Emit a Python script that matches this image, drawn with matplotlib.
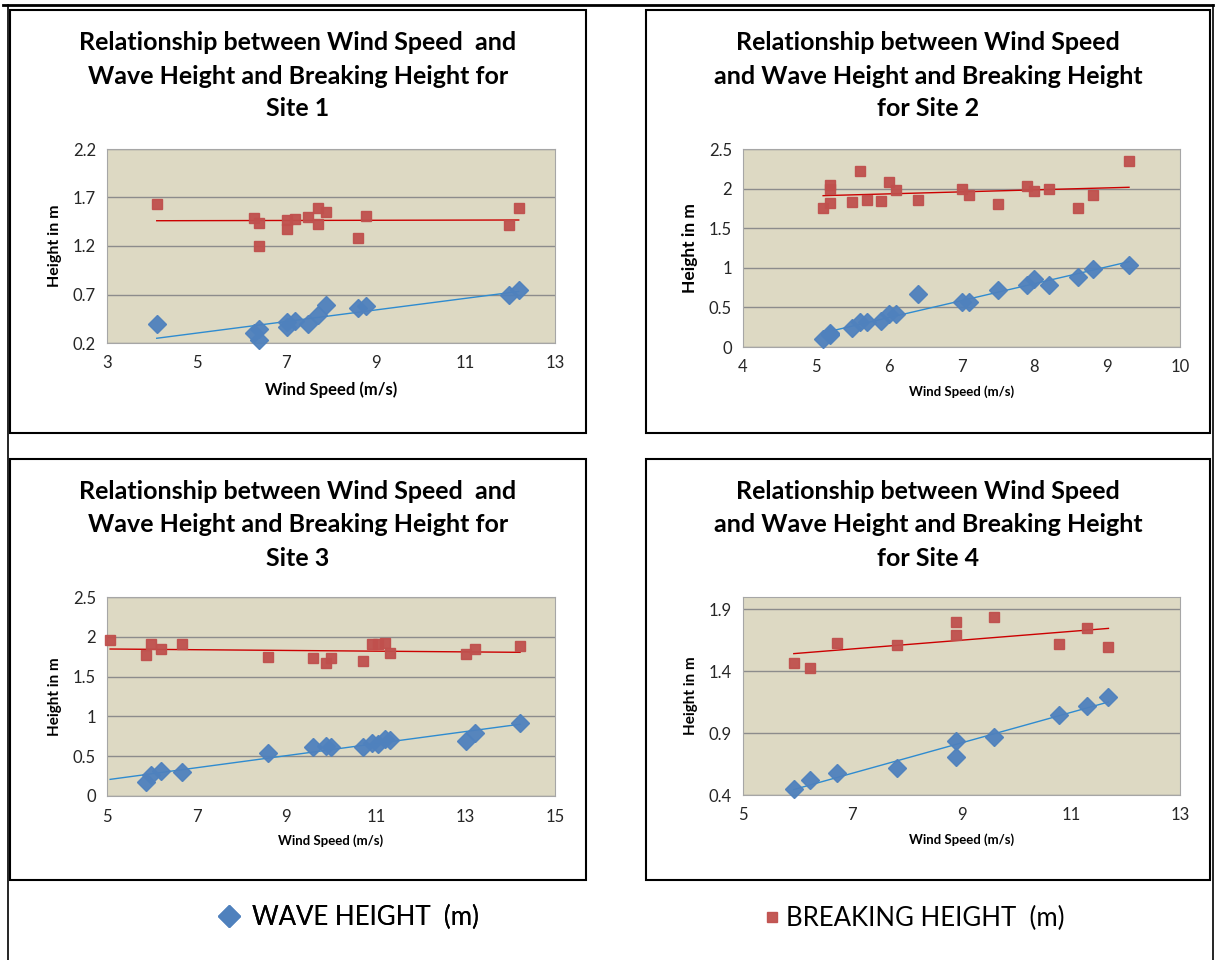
import numpy as np
import matplotlib
matplotlib.use("Agg")
import matplotlib.pyplot as plt
from matplotlib.patches import Rectangle
from matplotlib.lines import Line2D

plt.rcParams['font.family'] = ['Lato', 'DejaVu Sans']

# site 1
s1_wind_b = [4.11, 6.29, 6.40, 6.40, 7.01, 7.01, 7.20, 7.49, 7.70, 7.70, 7.89, 8.61, 8.79, 11.98, 12.19]
s1_break = [1.63, 1.49, 1.44, 1.20, 1.47, 1.38, 1.48, 1.50, 1.59, 1.43, 1.55, 1.28, 1.51, 1.42, 1.59]
s1_wind_w = [4.11, 6.29, 6.40, 6.40, 7.01, 7.01, 7.20, 7.49, 7.70, 7.89, 8.61, 8.79, 11.98, 12.19]
s1_wave = [0.40, 0.30, 0.34, 0.23, 0.37, 0.42, 0.43, 0.40, 0.49, 0.59, 0.56, 0.58, 0.70, 0.75]

# site 2
s2_wind = [5.1, 5.2, 5.2, 5.2, 5.5, 5.6, 5.7, 5.9, 6.0, 6.1, 6.4, 7.0, 7.1, 7.5, 7.9, 8.0, 8.2, 8.6, 8.8, 9.3]
s2_break = [1.76, 1.82, 2.00, 2.05, 1.83, 2.22, 1.86, 1.84, 2.08, 1.98, 1.85, 2.00, 1.92, 1.80, 2.03, 1.97, 2.00, 1.75, 1.92, 2.35]
s2_wave = [0.10, 0.15, 0.17, 0.18, 0.24, 0.31, 0.31, 0.33, 0.42, 0.42, 0.67, 0.57, 0.57, 0.72, 0.78, 0.86, 0.78, 0.88, 0.98, 1.04]

# site 3
s3_wind_b = [5.07, 5.88, 5.99, 6.20, 6.68, 8.60, 9.60, 9.89, 10.00, 10.71, 10.91, 11.04, 11.20, 11.31, 13.02, 13.21, 14.22]
s3_break = [1.96, 1.77, 1.91, 1.85, 1.91, 1.74, 1.73, 1.67, 1.73, 1.70, 1.91, 1.91, 1.92, 1.80, 1.79, 1.85, 1.89]
s3_wind_w = [5.88, 5.99, 6.20, 6.68, 8.60, 9.60, 9.89, 10.00, 10.71, 10.91, 11.04, 11.20, 11.31, 13.02, 13.21, 14.22]
s3_wave = [0.18, 0.26, 0.32, 0.30, 0.54, 0.61, 0.63, 0.61, 0.61, 0.67, 0.65, 0.72, 0.70, 0.69, 0.79, 0.92]

# site 4
s4_wind = [5.93, 6.22, 6.72, 7.82, 8.90, 8.90, 9.60, 10.79, 11.29, 11.69]
s4_break = [1.47, 1.425, 1.63, 1.61, 1.80, 1.69, 1.84, 1.62, 1.75, 1.60]
s4_wave = [0.45, 0.52, 0.58, 0.62, 0.84, 0.71, 0.87, 1.05, 1.12, 1.19]

titles = [
    ["Relationship between Wind Speed  and", "Wave Height and Breaking Height for", "Site 1"],
    ["Relationship between Wind Speed", "and Wave Height and Breaking Height", "for Site 2"],
    ["Relationship between Wind Speed  and", "Wave Height and Breaking Height for", "Site 3"],
    ["Relationship between Wind Speed", "and Wave Height and Breaking Height", "for Site 4"],
]

BLUE = '#4F81BD'
RED = '#C0504D'
W, H = 1215, 960

fig = plt.figure(figsize=(12.15, 9.6), dpi=100)

def fx(px):
    return px / W

def fy(py):
    return 1 - py / H

# outer frame and panel boxes
fig.add_artist(Line2D([fx(3), fx(1213)], [fy(5), fy(5)], color='black', lw=2))
fig.add_artist(Line2D([fx(8), fx(8)], [fy(5), fy(960)], color='black', lw=1.2))
fig.add_artist(Line2D([fx(1213), fx(1213)], [fy(5), fy(960)], color='black', lw=1.2))
boxes = [(10, 10, 586, 433), (646, 10, 1210, 433), (10, 459, 586, 880), (646, 459, 1210, 880)]
for x0, y0, x1, y1 in boxes:
    fig.add_artist(Rectangle((fx(x0), fy(y1)), fx(x1 - x0), (y1 - y0) / H,
                             fill=False, edgecolor='black', lw=1.5))

# plot areas in pixels: left, top, right, bottom
areas = [(107, 149, 555, 343), (743, 149, 1180, 347), (107, 597, 555, 796), (743, 597, 1180, 795)]
series = [
    (s1_wind_w, s1_wave, s1_wind_b, s1_break),
    (s2_wind, s2_wave, s2_wind, s2_break),
    (s3_wind_w, s3_wave, s3_wind_b, s3_break),
    (s4_wind, s4_wave, s4_wind, s4_break),
]
xlims = [(3, 13, 2), (4, 10, 1), (5, 15, 2), (5, 13, 2)]
ylims = [(0.2, 2.2, [0.2, 0.7, 1.2, 1.7, 2.2]), (0, 2.5, [0, 0.5, 1, 1.5, 2, 2.5]),
         (0, 2.5, [0, 0.5, 1, 1.5, 2, 2.5]), (0.4, 2.0, [0.4, 0.9, 1.4, 1.9])]
xlab_size = [12, 9.5, 9.5, 9.5]
ylab_size = [11.5, 12.5, 11, 11]

handles = []
for i in range(4):
    l, t, r, b = areas[i]
    ax = fig.add_axes([fx(l), fy(b), fx(r - l), (b - t) / H])
    ax.set_facecolor('#DDD9C3')
    xw, yw, xb, yb = series[i]
    x_all = np.concatenate([xw, xb])
    xs = np.array([x_all.min(), x_all.max()])
    cw = np.polyfit(xw, yw, 1)
    cb = np.polyfit(xb, yb, 1)
    ax.plot(xs, np.polyval(cb, xs), color='#CC0000', lw=1, zorder=2)
    ax.plot(xs, np.polyval(cw, xs), color='#2E8BD0', lw=1, zorder=2)
    hb, = ax.plot(xb, yb, 's', color=RED, ms=7.5, mec=RED, alpha=0.95, zorder=3, clip_on=False)
    hw, = ax.plot(xw, yw, 'D', color=BLUE, ms=9, mec=BLUE, alpha=0.95, zorder=4, clip_on=False)
    if i == 0:
        handles = [hw, hb]
    x0, x1, step = xlims[i]
    ax.set_xlim(x0, x1)
    ax.set_xticks(np.arange(x0, x1 + 0.01, step))
    y0, y1, yt = ylims[i]
    ax.set_ylim(y0, y1)
    ax.set_yticks(yt)
    ax.set_yticklabels(['{:g}'.format(v) for v in yt])
    ax.grid(axis='y', color='#8C8C8C', lw=1)
    ax.set_axisbelow(True)
    for s in ax.spines.values():
        s.set_color('#A6A6A6')
    ax.tick_params(length=0, labelsize=12, pad=9, colors='#262626')
    ax.tick_params(axis='y', pad=8)
    ax.set_xlabel("Wind Speed (m/s)", fontsize=xlab_size[i], fontweight='bold', labelpad=7)
    ax.set_ylabel("Height in m", fontsize=ylab_size[i], fontweight='bold', labelpad=8)

    bx0, by0, bx1, by1 = boxes[i]
    cx = (bx0 + bx1) / 2
    for k, line in enumerate(titles[i]):
        fig.text(fx(cx), fy(by0 + 33 + 33 * k), line, ha='center', va='center',
                 fontsize=18, fontweight='bold')

leg1 = fig.legend(handles=[handles[0]], labels=["WAVE HEIGHT  (m)"], loc='center left',
                  bbox_to_anchor=(fx(193), fy(917)), frameon=False, fontsize=18.5,
                  handlelength=1, handletextpad=0.4, markerscale=1.2)
fig.add_artist(leg1)
fig.legend(handles=[handles[1]], labels=["BREAKING HEIGHT  (m)"], loc='center left',
           bbox_to_anchor=(fx(736), fy(918)), frameon=False, fontsize=18.5,
           handlelength=1, handletextpad=0.05, markerscale=0.9)

fig.savefig("out.png", dpi=100, facecolor='white')
